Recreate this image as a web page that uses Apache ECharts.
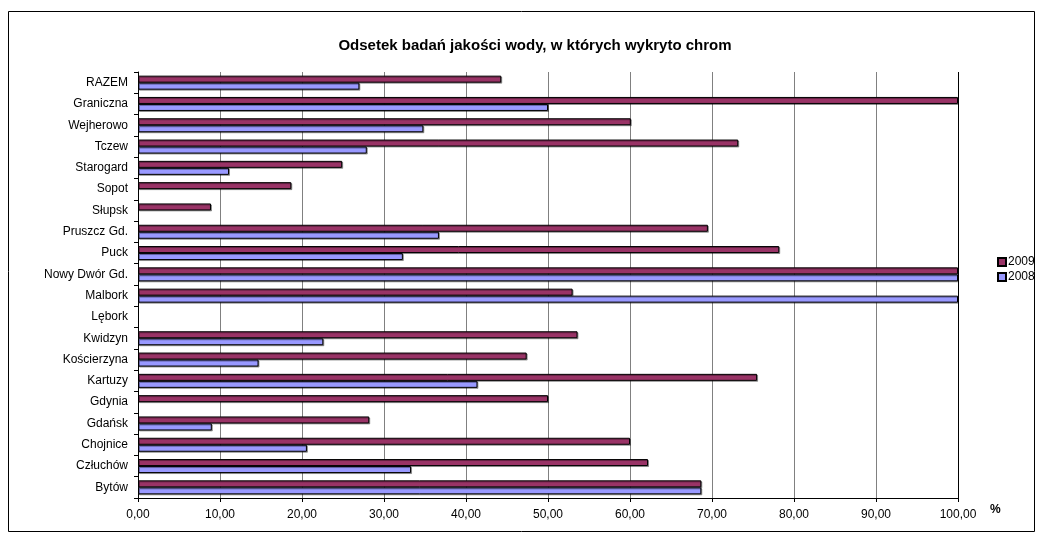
<!DOCTYPE html>
<html>
<head>
<meta charset="utf-8">
<script src="https://cdn.jsdelivr.net/npm/echarts@6/dist/echarts.min.js"></script>
<style>
  html, body { margin: 0; padding: 0; background: #fff; }
  #chromChart { width: 1043px; height: 533px; }
</style>
</head>
<body>
<div id="chromChart"></div>
<script>
// dane z wykresu (od góry do dołu)
var categories = ["RAZEM", "Graniczna", "Wejherowo", "Tczew", "Starogard", "Sopot", "Słupsk",
  "Pruszcz Gd.", "Puck", "Nowy Dwór Gd.", "Malbork", "Lębork", "Kwidzyn", "Kościerzyna",
  "Kartuzy", "Gdynia", "Gdańsk", "Chojnice", "Człuchów", "Bytów"];
var values2009 = [44.3, 100, 60.1, 73.2, 24.9, 18.7, 8.9, 69.5, 78.2, 100, 53.0, null, 53.6, 47.4,
  75.5, 50.0, 28.2, 60.0, 62.2, 68.7];
var values2008 = [27.0, 50.0, 34.8, 27.9, 11.1, null, null, 36.7, 32.3, 100, 100, null, 22.6, 14.7,
  41.4, null, 9.0, 20.6, 33.3, 68.7];
var xTicks = [0, 10, 20, 30, 40, 50, 60, 70, 80, 90, 100];

var font = "Liberation Sans, Arial, sans-serif";
var myChart = echarts.init(document.getElementById("chromChart"));

var barShadow = { shadowColor: "rgba(0,0,0,0.35)", shadowOffsetX: 1, shadowOffsetY: 1, shadowBlur: 0 };

myChart.setOption({
  animation: false,
  title: {
    text: "Odsetek badań jakości wody, w których wykryto chrom",
    left: 530,
    textAlign: "center",
    top: 33,
    textStyle: { fontFamily: font, fontSize: 15, fontWeight: "bold", color: "#000" }
  },
  legend: {
    orient: "vertical",
    left: 997,
    top: 256,
    padding: 0,
    itemWidth: 8,
    itemHeight: 8,
    itemGap: 3,
    icon: "rect",
    data: ["2009", "2008"],
    textStyle: { fontFamily: font, fontSize: 12, color: "#000", padding: [0, 0, 0, -3] }
  },
  graphic: [{
    type: "rect",
    shape: { x: 8.5, y: 11.5, width: 1026, height: 520 },
    style: { fill: "none", stroke: "#000", lineWidth: 1 },
    silent: true
  }],
  grid: { left: 138, right: 85, top: 72, bottom: 35 },
  xAxis: {
    type: "value",
    min: xTicks[0],
    max: xTicks[xTicks.length - 1],
    interval: 10,
    name: "%",
    nameGap: 32,
    nameTextStyle: { fontFamily: font, fontSize: 12, fontWeight: "bold", color: "#000", verticalAlign: "top", padding: [6, 0, 0, 0] },
    axisLine: { show: true, lineStyle: { color: "#000" } },
    axisTick: { show: true, length: 4, lineStyle: { color: "#000" } },
    axisLabel: {
      fontFamily: font, fontSize: 12, color: "#000", margin: 11,
      formatter: function (v) { return v.toFixed(2).replace(".", ","); }
    },
    splitLine: { show: true, lineStyle: { color: "#808080", width: 1 } }
  },
  yAxis: {
    type: "category",
    inverse: true,
    data: categories,
    axisLine: { show: true, lineStyle: { color: "#000" } },
    axisTick: { show: true, length: 4, lineStyle: { color: "#000" } },
    axisLabel: { fontFamily: font, fontSize: 12, color: "#000", margin: 10 }
  },
  series: [
    {
      name: "2009",
      type: "bar",
      data: values2009,
      barWidth: 7,
      barGap: "0%",
      itemStyle: Object.assign({ color: "#993366", borderColor: "#000", borderWidth: 1 }, barShadow),
      markLine: {
        silent: true,
        symbol: "none",
        label: { show: false },
        lineStyle: { color: "#000", type: "solid", width: 1 },
        data: [{ xAxis: 100 }]
      }
    },
    {
      name: "2008",
      type: "bar",
      data: values2008,
      barWidth: 7,
      barGap: "0%",
      itemStyle: Object.assign({ color: "#9999FF", borderColor: "#000", borderWidth: 1 }, barShadow)
    }
  ]
});
</script>
</body>
</html>
